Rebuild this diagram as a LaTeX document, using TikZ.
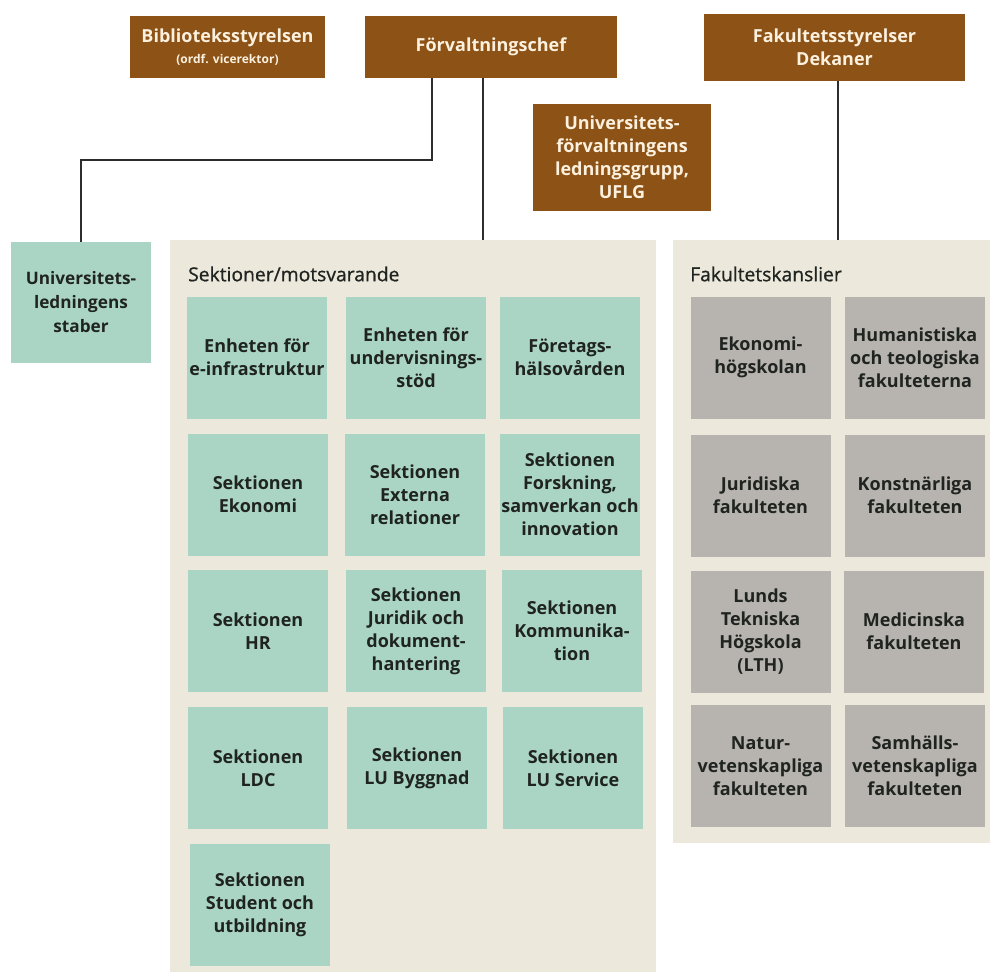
\documentclass[tikz,border=0pt]{standalone}
\usepackage{fontspec}
\setmainfont{Open Sans}
\definecolor{brownc}{RGB}{140,82,22}
\definecolor{creamc}{RGB}{252,240,222}
\definecolor{tealc}{RGB}{170,213,196}
\definecolor{beigec}{RGB}{236,232,220}
\definecolor{greyc}{RGB}{183,180,176}
\definecolor{inkc}{RGB}{32,36,32}
\definecolor{linec}{RGB}{45,45,45}
\tikzset{
  brownbox/.style={draw=none, fill=brownc, text=creamc, align=center, inner sep=0pt,
    font=\bfseries\fontsize{18}{23}\selectfont},
  cell/.style={draw=none, minimum width=140pt, minimum height=122pt, inner sep=0pt,
    align=center, text=inkc, font=\bfseries\fontsize{18}{23}\selectfont},
  tealcell/.style={cell, fill=tealc},
  greycell/.style={cell, fill=greyc},
  panel/.style={draw=none, fill=beigec, inner sep=0pt},
  paneltitle/.style={anchor=west, text=inkc, inner sep=0pt, font=\fontsize{19.3}{22}\selectfont\addfontfeature{FakeBold=0.9}},
  conn/.style={draw=linec, line width=1.8pt}
}
\begin{document}
\begin{tikzpicture}[x=1pt,y=-1pt]
\useasboundingbox[fill=white] (0,0) rectangle (992,974);
% panels
\node[panel, minimum width=486pt, minimum height=732pt] (sekpanel) at (413,606) {};
\node[panel, minimum width=317pt, minimum height=603pt] (fakpanel) at (831.5,541.5) {};
\node[paneltitle] (sektitle) at (188,274) {Sektioner/motsvarande};
\node[paneltitle] (faktitle) at (690,274) {Fakultetskanslier};
% top boxes
\node[brownbox, minimum width=195pt, minimum height=62pt] (bib) at (227.5,47)
  {Biblioteksstyrelsen\\[-2pt]{\fontsize{12}{14}\selectfont (ordf. vicerektor)}};
\node[brownbox, minimum width=252pt, minimum height=62pt] (forv) at (491,47) {Förvaltningschef};
\node[brownbox, minimum width=261pt, minimum height=67pt] (fak) at (834.5,47.5) {Fakultetsstyrelser\\Dekaner};
\node[brownbox, minimum width=178pt, minimum height=107pt] (uflg) at (622,157.5)
  {Universitets-\\förvaltningens\\ledningsgrupp,\\UFLG};
% staber
\node[tealcell, minimum width=140pt, minimum height=121pt, font=\bfseries\fontsize{17.2}{24}\selectfont] (staber) at (81,302.5)
  {Universitets-\\ledningens\\staber};
% sektioner grid
\node[tealcell] (s11) at (257,357.5) {Enheten för\\e-infrastruktur};
\node[tealcell] (s12) at (416,357.5) {Enheten för\\undervisnings-\\stöd};
\node[tealcell] (s13) at (570,357.5) {Företags-\\hälsovården};
\node[tealcell] (s21) at (258,494.5) {Sektionen\\Ekonomi};
\node[tealcell] (s22) at (415,494.5) {Sektionen\\Externa\\relationer};
\node[tealcell] (s23) at (570,494.5) {Sektionen\\Forskning,\\samverkan och\\innovation};
\node[tealcell] (s31) at (258,631) {Sektionen\\HR};
\node[tealcell] (s32) at (416,631) {Sektionen\\Juridik och\\dokument-\\hantering};
\node[tealcell] (s33) at (572,631) {Sektionen\\Kommunika-\\tion};
\node[tealcell] (s41) at (258,768) {Sektionen\\LDC};
\node[tealcell] (s42) at (417,768) {Sektionen\\LU Byggnad};
\node[tealcell] (s43) at (573,768) {Sektionen\\LU Service};
\node[tealcell] (s51) at (260,904.5) {Sektionen\\Student och\\utbildning};
% fakultet grid
\node[greycell] (f11) at (760.5,357.5) {Ekonomi-\\högskolan};
\node[greycell] (f12) at (915,357.5) {Humanistiska\\och teologiska\\fakulteterna};
\node[greycell] (f21) at (760.5,495.5) {Juridiska\\fakulteten};
\node[greycell] (f22) at (915,495.5) {Konstnärliga\\fakulteten};
\node[greycell] (f31) at (760.5,631.5) {Lunds\\Tekniska\\Högskola\\(LTH)};
\node[greycell] (f32) at (914,631.5) {Medicinska\\fakulteten};
\node[greycell] (f41) at (760.5,766) {Natur-\\vetenskapliga\\fakulteten};
\node[greycell] (f42) at (915,766) {Samhälls-\\vetenskapliga\\fakulteten};
% connectors
\coordinate (k1) at (432,160);
\coordinate (k2) at (483,0);
\coordinate (k3) at (838,0);
\draw[conn] (forv.south -| k1) -- (k1) -| (staber.north);
\draw[conn] (forv.south -| k2) -- (sekpanel.north -| k2);
\draw[conn] (fak.south -| k3) -- (fakpanel.north -| k3);
\end{tikzpicture}
\end{document}
